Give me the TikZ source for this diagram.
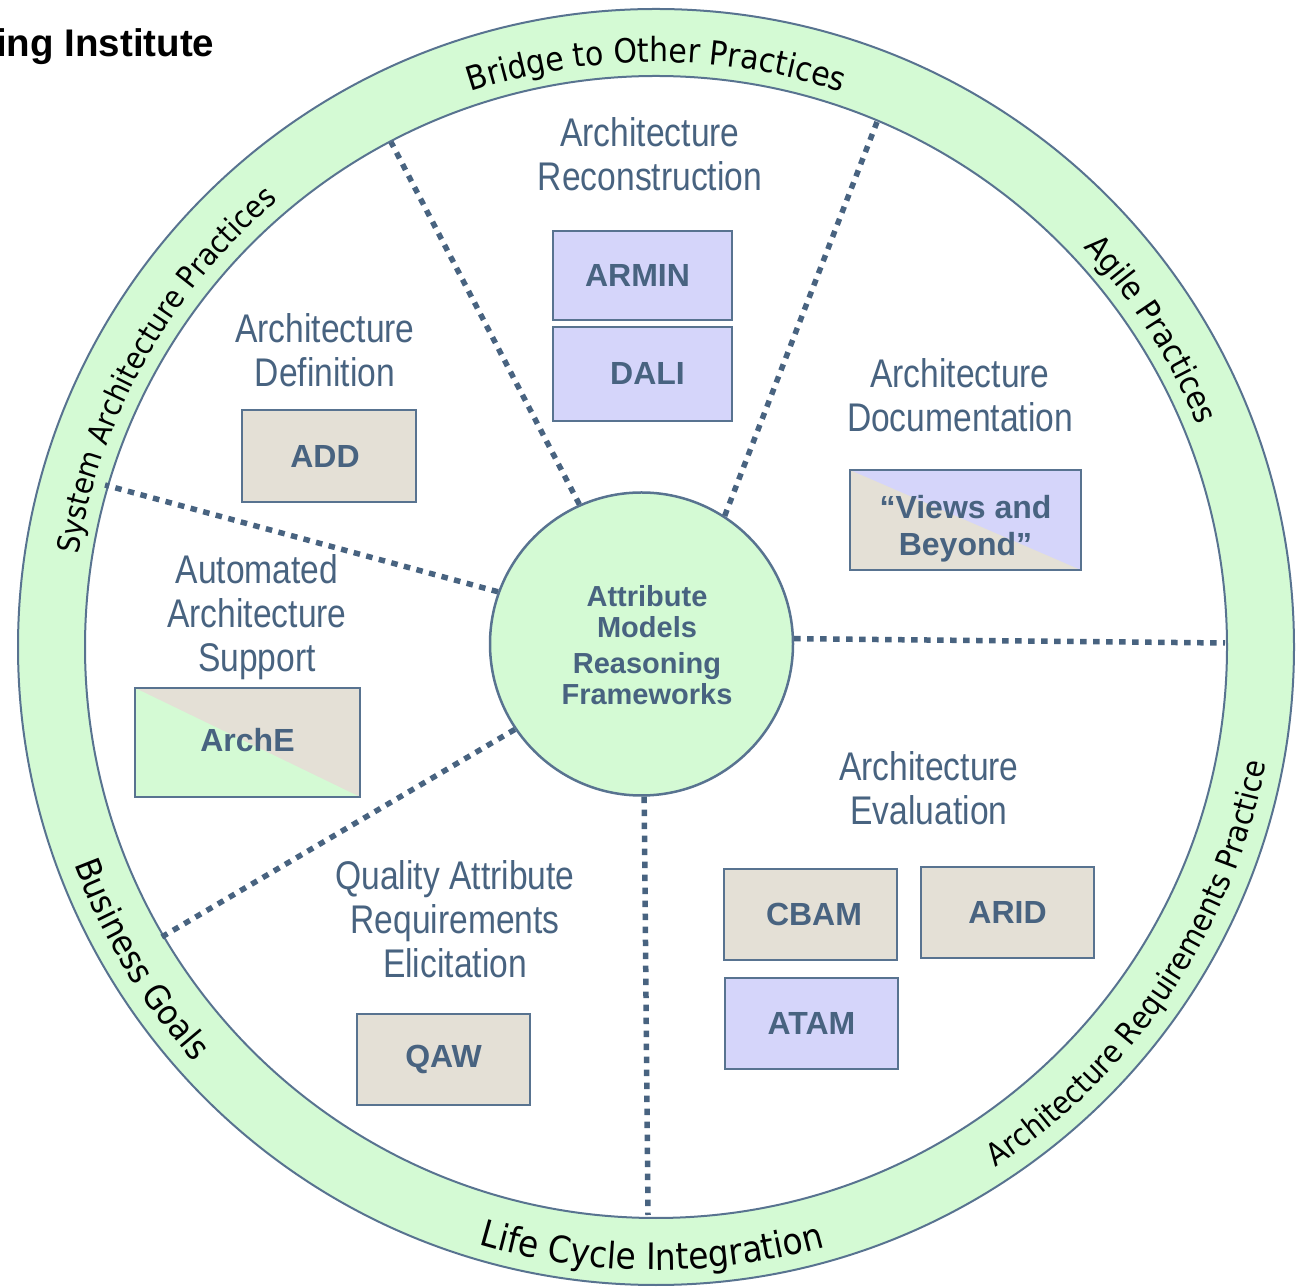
\documentclass[tikz,border=0pt]{standalone}
\usepackage{fontspec}
\usetikzlibrary{decorations.text}
\newfontfamily\lblfont[FakeStretch=0.84]{Liberation Sans}
\newfontfamily\boxfont{Liberation Sans}
\newfontfamily\ringfont[FakeStretch=0.9]{DejaVu Sans}
\definecolor{ringgreen}{HTML}{D4FAD4}
\definecolor{slate}{HTML}{486380}
\definecolor{edgec}{HTML}{587390}
\definecolor{lav}{HTML}{D5D5FA}
\definecolor{tanc}{HTML}{E4E0D6}
\newcommand\rfBridge{\ringfont\fontsize{33.3}{36}\selectfont}
\newcommand\rfAgile{\ringfont\fontsize{32.2}{36}\selectfont}
\newcommand\rfSAP{\ringfont\fontsize{30.6}{36}\selectfont}
\newcommand\rfLife{\ringfont\fontsize{36.5}{40}\selectfont}
\newcommand\rfBiz{\ringfont\fontsize{34.4}{38}\selectfont}
\newcommand\rfARP{\ringfont\fontsize{31.1}{36}\selectfont}
\begin{document}
\begin{tikzpicture}[x=1pt,y=1pt,
  toolbox/.style={draw=edgec, line width=2pt, inner sep=0pt, text=slate,
    font=\boxfont\bfseries\fontsize{32}{37}\selectfont, align=center},
  boxtext/.style={text=slate, inner sep=0pt, align=center,
    font=\boxfont\bfseries\fontsize{32}{37}\selectfont},
  centretext/.style={text=slate, inner sep=0pt, align=center,
    font=\boxfont\bfseries\fontsize{29}{31}\selectfont},
  lbl/.style={text=slate, align=center, inner sep=0pt,
    font=\lblfont\fontsize{40}{44}\selectfont},
  dotline/.style={draw=slate, line width=5.5pt, dash pattern=on 6.5pt off 6.5pt},
  ringtext/.style={decorate, decoration={text along path, text align=center, text={#1}}}
]
\useasboundingbox (0,0) rectangle (1299,1286);
\coordinate (O) at (656,639);
% ring
\fill[ringgreen, even odd rule] (O) circle[radius=638] (O) circle[radius=571];
\draw[edgec, line width=2pt] (O) circle[radius=638] (O) circle[radius=571];

% ring texts
\path (O) ++(135:585) coordinate (tb);
\path[ringtext={|\rfBridge|Bridge to Other Practices}] (tb) arc[start angle=135, end angle=45, radius=585];
\path (O) ++(72.65:585) coordinate (ta);
\path[ringtext={|\rfAgile|Agile Practices}] (ta) arc[start angle=72.65, end angle=-7.35, radius=585];
\path (O) ++(195.6:585) coordinate (ts);
\path[ringtext={|\rfSAP|System Architecture Practices}] (ts) arc[start angle=195.6, end angle=105.6, radius=585];
\path (O) ++(-135.4:623) coordinate (tl);
\path[ringtext={|\rfLife|Life Cycle Integration}] (tl) arc[start angle=-135.4, end angle=-45.4, radius=623];
\path (O) ++(171.2:621) coordinate (tg);
\path[ringtext={|\rfBiz|Business Goals}] (tg) arc[start angle=171.2, end angle=251.2, radius=621];
\path (O) ++(-78.85:621) coordinate (tr);
\path[ringtext={|\rfARP|Architecture Requirements Practice}] (tr) arc[start angle=-78.85, end angle=11.15, radius=621];

% header
\node[anchor=base west, inner sep=0pt, font=\boxfont\bfseries\fontsize{38.5}{40}\selectfont] (sei) at (-4,1229) {ing Institute};

% centre
\node[circle, draw=edgec, line width=2.5pt, fill=ringgreen, minimum size=303pt, inner sep=0pt,
  label={[centretext, xshift=5.5pt, yshift=-1pt]center:{Attribute\\Models\\[5pt]Reasoning\\Frameworks}}]
  (c) at (641.5,642) {};

% spoke end points on the inner ring
\coordinate (e1) at (391,1144);
\coordinate (e2) at (877,1164);
\coordinate (e3) at (1225,643);
\coordinate (e4) at (648,71);
\coordinate (e5) at (160,348);
\coordinate (e6) at (105,801);
\draw[dotline] (c.114) -- (e1);
\draw[dotline] (c.57) -- (e2);
\draw[dotline] (c.2) -- (e3);
\draw[dotline] (c.-89) -- (e4);
\draw[dotline] (c.214) -- (e5);
\draw[dotline] (c.160) -- (e6);

% labels
\node[lbl] (lrec) at (650,1132) {Architecture\\Reconstruction};
\node[lbl] (ldef) at (325,936) {Architecture\\Definition};
\node[lbl] (ldoc) at (960,891) {Architecture\\Documentation};
\node[lbl] (laut) at (257,669) {Automated\\Architecture\\Support};
\node[lbl] (leva) at (929,498) {Architecture\\Evaluation};
\node[lbl] (lqar) at (455,367) {Quality Attribute\\Requirements\\Elicitation};

% tool boxes
\node[toolbox, fill=lav, minimum width=179pt, minimum height=89pt] (armin) at (642.5,1010.5) {\kern-10pt ARMIN};
\node[toolbox, fill=lav, minimum width=179pt, minimum height=94pt] (dali) at (642.5,912) {\kern10pt DALI};
\node[toolbox, fill=tanc, minimum width=174pt, minimum height=92pt] (add) at (329,830) {\kern-8pt ADD};
\node[toolbox, fill=tanc, minimum width=231pt, minimum height=100pt,
  path picture={\fill[lav] (path picture bounding box.north west) -- (path picture bounding box.north east)
    -- (path picture bounding box.south east) -- cycle;},
  label={[boxtext, yshift=-9pt]center:{“Views and\\Beyond”}}] (vab) at (965.5,766) {};
\node[toolbox, fill=tanc, minimum width=225pt, minimum height=109pt,
  path picture={\fill[ringgreen] (path picture bounding box.north west) -- (path picture bounding box.south east)
    -- (path picture bounding box.south west) -- cycle;}] (arche) at (247.5,543.5) {\raisebox{6pt}{ArchE}};
\node[toolbox, fill=tanc, minimum width=173pt, minimum height=91pt] (qaw) at (443.5,226.5) {QAW};
\node[toolbox, fill=tanc, minimum width=173pt, minimum height=91pt] (cbam) at (810.5,371.5) {\kern7pt CBAM};
\node[toolbox, fill=tanc, minimum width=173pt, minimum height=91pt] (arid) at (1007.5,373.5) {ARID};
\node[toolbox, fill=lav, minimum width=173pt, minimum height=91pt] (atam) at (811.5,262.5) {ATAM};
\end{tikzpicture}
\end{document}
